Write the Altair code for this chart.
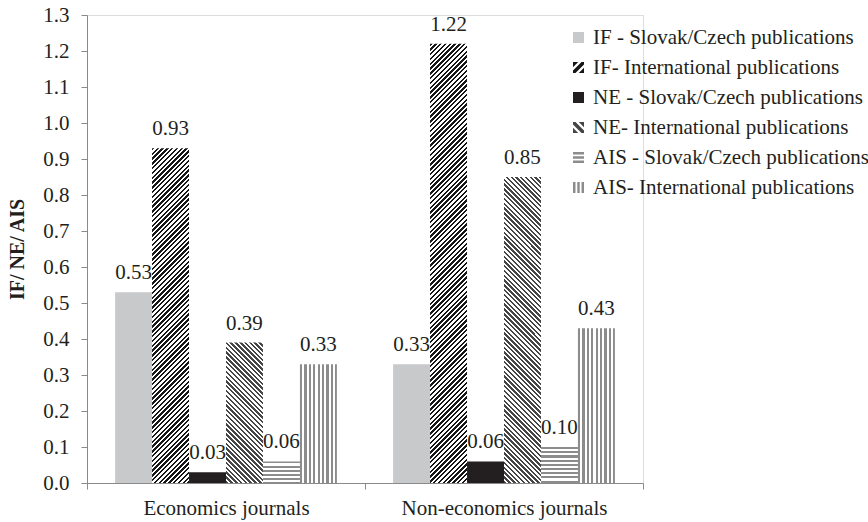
import altair as alt
import pandas as pd

# ---- data -------------------------------------------------------------
categories = ["Economics journals", "Non-economics journals"]
series = [
    "IF - Slovak/Czech publications",
    "IF- International publications",
    "NE - Slovak/Czech publications",
    "NE- International publications",
    "AIS - Slovak/Czech publications",
    "AIS- International publications",
]
econ_values = [0.53, 0.93, 0.03, 0.39, 0.06, 0.33]
nonecon_values = [0.33, 1.22, 0.06, 0.85, 0.10, 0.43]
y_ticks = [0.0, 0.1, 0.2, 0.3, 0.4, 0.5, 0.6, 0.7, 0.8, 0.9, 1.0, 1.1, 1.2, 1.3]

rows = []
for cat, vals in zip(categories, [econ_values, nonecon_values]):
    for s, v in zip(series, vals):
        rows.append({"category": cat, "series": s, "value": v})
df = pd.DataFrame(rows)

# ---- layout / style ---------------------------------------------------
FONT = "'Liberation Serif', 'Times New Roman', Times, 'DejaVu Serif', serif"
FS = 21
TEXT = "#231f20"
AXIS_GREY = "#8a8a8a"
W, H = 556, 468
Y_MAX = 1.3
OUTER = 0.76  # outer padding of the bar group inside each category band
STEP = (W / len(categories)) / (len(series) + 2 * OUTER)

# fill style per series: (kind, ink colour, stripe period in px)
styles = {
    series[0]: ("solid", "#c8c9cb", None),
    series[1]: ("/", "#161616", 4.8),
    series[2]: ("solid", "#231f20", None),
    series[3]: ("\\", "#454545", 4.8),
    series[4]: ("h", "#8c8c8c", 4.2),
    series[5]: ("v", "#8c8c8c", 4.4),
}

# small patterned legend symbols drawn in the [-1, 1] unit square
legend_shapes = [
    "square",
    "M-1,-1L-0.05,-1L-1,-0.05Z M-1,0.55L0.55,-1L1,-1L1,-0.55L-0.55,1L-1,1Z M1,1L0.05,1L1,0.05Z",
    "square",
    "M1,-1L0.05,-1L1,-0.05Z M1,0.55L-0.55,-1L-1,-1L-1,-0.55L0.55,1L1,1Z M-1,1L-0.05,1L-1,0.05Z",
    "M-1,-1H1V-0.55H-1Z M-1,-0.22H1V0.22H-1Z M-1,0.55H1V1H-1Z",
    "M-1,-1V1H-0.55V-1Z M-0.22,-1V1H0.22V-1Z M0.55,-1V1H1V-1Z",
]
legend_colors = ["#c8c9cb", "#161616", "#231f20", "#454545", "#8c8c8c", "#8c8c8c"]


def stripe_stops(n_periods, ink, paper="#ffffff", ink_frac=0.5):
    stops = []
    k = 0
    while k < n_periods:
        a = round(k / n_periods, 5)
        b = round(min((k + ink_frac) / n_periods, 1.0), 5)
        c = round(min((k + 1) / n_periods, 1.0), 5)
        stops += [
            {"offset": a, "color": ink},
            {"offset": b, "color": ink},
            {"offset": b, "color": paper},
            {"offset": c, "color": paper},
        ]
        k += 1
    return stops


def stripe_fill(kind, ink, period, w, h):
    """Linear gradient with hard stops that paints stripes on a w x h bar."""
    if kind == "v":
        x1, y1, x2, y2, ext = 0, 0, 1, 0, w
    elif kind == "h":
        x1, y1, x2, y2, ext = 0, 0, 0, 1, h
    else:
        s = (w + h) / (w * w + h * h)
        ext = w + h
        if kind == "/":
            x1, y1, x2, y2 = 0, 0, s * w, s * h
        else:
            x1, y1, x2, y2 = 0, 1, s * w, 1 - s * h
    return {
        "gradient": "linear",
        "x1": x1, "y1": y1, "x2": round(x2, 5), "y2": round(y2, 5),
        "stops": stripe_stops(ext / period, ink),
    }


# ---- chart ------------------------------------------------------------
base = alt.Chart(df).encode(
    x=alt.X(
        "category:N",
        scale=alt.Scale(domain=categories, paddingInner=0, paddingOuter=0),
        axis=alt.Axis(
            title=None, labelAngle=0, tickBand="extent", tickSize=6,
            labelPadding=8, labelFontSize=FS, labelFont=FONT, labelColor=TEXT,
            labelLimit=400, domainColor=AXIS_GREY, tickColor=AXIS_GREY,
            grid=False,
        ),
    ),
    xOffset=alt.XOffset(
        "series:N",
        scale=alt.Scale(domain=series, paddingInner=0, paddingOuter=OUTER),
    ),
    y=alt.Y(
        "value:Q",
        scale=alt.Scale(domain=[0, Y_MAX], nice=False, zero=True),
        axis=alt.Axis(
            title="IF/ NE/ AIS", values=y_ticks, format=".1f", grid=False,
            tickSize=6, labelPadding=12, labelFontSize=FS, labelFont=FONT,
            labelColor=TEXT, domainColor=AXIS_GREY, tickColor=AXIS_GREY,
            titleFont=FONT, titleFontSize=20, titleFontWeight="bold",
            titleColor=TEXT, titleX=-70, titleY=H / 2, titleAngle=270,
            titleAlign="center", titleBaseline="middle",
        ),
    ),
)

legend_props = dict(
    title=None, orient="none", legendX=481, legendY=12, padding=0,
    symbolSize=121, symbolOpacity=1, symbolStrokeWidth=0,
    labelFont=FONT, labelFontSize=FS, labelColor=TEXT,
    labelOffset=4, rowPadding=8, labelLimit=400,
)

# invisible points that carry the legend
legend_layer = base.mark_point(filled=True, opacity=0).encode(
    fill=alt.Fill(
        "series:N",
        scale=alt.Scale(domain=series, range=legend_colors),
        legend=alt.Legend(**legend_props),
    ),
    shape=alt.Shape(
        "series:N",
        scale=alt.Scale(domain=series, range=legend_shapes),
        legend=alt.Legend(**legend_props),
    ),
)

bar_layers = []
for cat in categories:
    for s in series:
        v = float(df[(df.category == cat) & (df.series == s)].value.iloc[0])
        kind, ink, period = styles[s]
        if kind == "solid":
            fill = ink
        else:
            fill = stripe_fill(kind, ink, period, STEP, v / Y_MAX * H)
        bar_layers.append(
            base.transform_filter(
                (alt.datum.category == cat) & (alt.datum.series == s)
            ).mark_bar(fill=fill, stroke=None)
        )

labels = base.mark_text(
    dy=-13, baseline="alphabetic", align="center",
    font=FONT, fontSize=FS, color=TEXT,
).encode(text=alt.Text("value:Q", format=".2f"))

chart = (
    alt.layer(legend_layer, *bar_layers, labels)
    .properties(
        width=W, height=H, autosize="none",
        padding={"left": 87, "top": 15, "right": 225, "bottom": 39},
    )
    .configure_view(stroke=None)
    .configure(font=FONT)
)

chart.save("out.html", embed_options={"renderer": "svg", "actions": False})
